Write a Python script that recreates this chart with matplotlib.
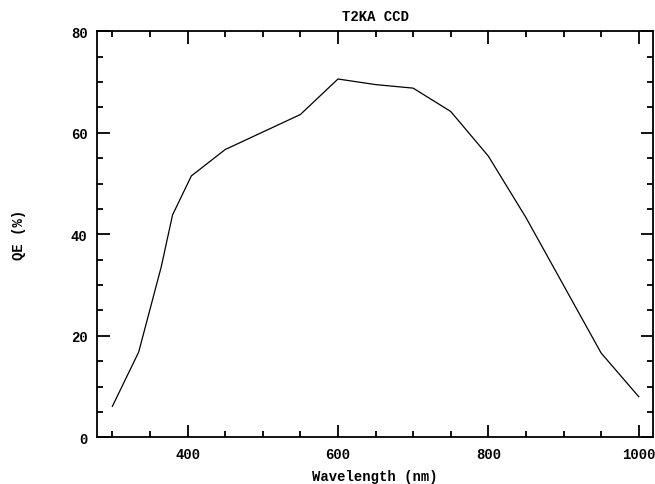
import matplotlib
matplotlib.use('Agg')
import matplotlib.pyplot as plt
from matplotlib.ticker import MultipleLocator

# QE curve of the T2KA CCD
wavelength = [300, 335, 365, 380, 405, 450, 550, 600, 650, 700, 750, 800, 850, 950, 1000]
qe = [6.1, 16.8, 33.6, 43.8, 51.5, 56.7, 63.6, 70.6, 69.5, 68.8, 64.2, 55.4, 43.3, 16.6, 8.0]

plt.rcParams['font.family'] = ['Liberation Mono', 'DejaVu Sans']
plt.rcParams['font.weight'] = 'bold'

fig = plt.figure(figsize=(6.55, 4.85), dpi=100)
ax = fig.add_axes([0.1486, 0.0963, 0.8484, 0.8371])

ax.plot(wavelength, qe, color='black', linewidth=0.9)

ax.set_xlim(280, 1019)
ax.set_ylim(0, 80)
ax.xaxis.set_major_locator(MultipleLocator(200))
ax.xaxis.set_minor_locator(MultipleLocator(50))
ax.yaxis.set_major_locator(MultipleLocator(20))
ax.yaxis.set_minor_locator(MultipleLocator(5))
ax.tick_params(which='both', direction='in', top=True, right=True, width=1.3, colors='black')
ax.tick_params(which='major', length=9, pad=7, labelsize=10)
ax.tick_params(which='minor', length=4.5)
for lab in ax.get_xticklabels() + ax.get_yticklabels():
    lab.set_fontweight('bold')
for s in ax.spines.values():
    s.set_linewidth(1.3)

# naming the axes
ax.set_xlabel('Wavelength (nm)', fontsize=10, fontweight='bold', labelpad=6)
ax.set_ylabel('QE (%)', fontsize=10, fontweight='bold', labelpad=32)
ax.set_title('T2KA CCD', fontsize=10, fontweight='bold', pad=8)

fig.savefig('out.png', dpi=100)
